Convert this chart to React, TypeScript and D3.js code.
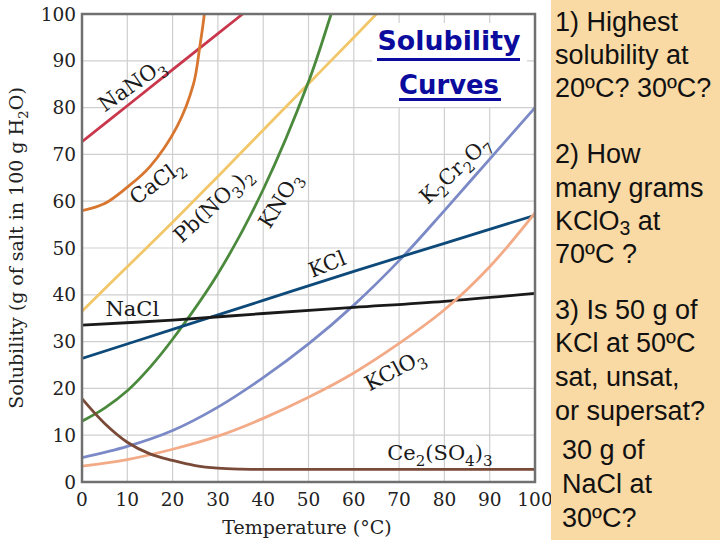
import React from "react";
import * as d3 from "d3";

// ---------- data ----------
const xTicks = [0, 10, 20, 30, 40, 50, 60, 70, 80, 90, 100];
const yTicks = [0, 10, 20, 30, 40, 50, 60, 70, 80, 90, 100];

const NaNO3: [number, number][] = [[0, 72.7], [10, 80.4], [20, 88.1], [30, 95.8], [40, 103.5]];
const CaCl2: [number, number][] = [[0, 58], [5, 59.5], [10, 63], [15, 67.4], [21, 76], [24.6, 85], [26, 93], [27, 100], [27.4, 105]];
const PbNO32: [number, number][] = [[0, 36.5], [10, 46], [20, 55.5], [30, 65.3], [40, 75.2], [50, 85.1], [60, 95], [66, 101]];
const KNO3: [number, number][] = [[0, 13], [5, 15.8], [10, 19.5], [15, 24.5], [20, 30.5], [30, 44.5], [40, 62.5], [50, 85.5], [55, 100], [57, 106]];
const K2Cr2O7: [number, number][] = [[0, 5.2], [10, 7.6], [20, 11], [30, 16], [40, 22.3], [50, 29.5], [60, 37.8], [70, 47.3], [80, 58], [90, 69], [100, 80]];
const KCl: [number, number][] = [[0, 26.4], [20, 32.6], [40, 38.8], [60, 45], [80, 51], [100, 57]];
const NaCl: [number, number][] = [[0, 33.5], [20, 34.6], [40, 36], [60, 37.3], [80, 38.6], [100, 40.3]];
const KClO3: [number, number][] = [[0, 3.4], [10, 4.8], [20, 7], [30, 9.8], [40, 13.6], [50, 18.1], [60, 23.3], [70, 29.6], [80, 36.8], [90, 46], [100, 57.5]];
const Ce2SO43: [number, number][] = [[0, 17.8], [5, 12.5], [10, 8.5], [15, 6], [20, 4.6], [25, 3.5], [30, 2.95], [35, 2.75], [40, 2.7], [60, 2.7], [100, 2.7]];

const seriesData = [NaNO3, CaCl2, PbNO32, KNO3, K2Cr2O7, KCl, NaCl, KClO3, Ce2SO43];
const seriesNames = ["NaNO_3", "CaCl_2", "Pb(NO_3)_2", "KNO_3", "K_2Cr_2O_7", "KCl", "NaCl", "KClO_3", "Ce_2(SO_4)_3"];
const seriesColors = ["#c8374b", "#d8762f", "#f2c76a", "#4b8a3c", "#7b8ac6", "#0d4a7a", "#1a1a1a", "#f3aa87", "#7a4a38"];
// label anchor (temperature, solubility) and rotation
const labelAt: [number, number][] = [[11.9, 83.6], [17.4, 62.9], [30, 58.1], [45, 59.4], [83.4, 65.6], [54.7, 45.1], [11.1, 35.5], [69.8, 22.6], [79, 4.7]];
const labelAngle = [-35, -36, -43, -58, -43, -22, 0, -28, 0];

const titleLines = ["Solubility", "Curves"];
const questionLines1 = ["1) Highest", "solubility at", "20ºC? 30ºC?", "", "2) How", "many grams", "KClO_3 at", "70ºC ?"];
const questionLines2 = ["3) Is 50 g of", "KCl at 50ºC", "sat, unsat,", "or supersat?"];
const questionLines3 = ["30 g of", "NaCl at", "30ºC?"];

// ---------- helpers ----------
function formula(s: string, size: number, shiftRatio = 0.28) {
  const parts = s.split(/_(\d)/);
  const shift = size * shiftRatio;
  let shifted = false;
  const out: any[] = [];
  parts.forEach((p, i) => {
    if (i % 2 === 1) {
      out.push(
        <tspan key={i} dy={shifted ? 0 : shift} fontSize={size * 0.72}>{p}</tspan>
      );
      shifted = true;
    } else if (p !== "") {
      out.push(
        <tspan key={i} dy={shifted ? -shift : 0} fontSize={size}>{p}</tspan>
      );
      shifted = false;
    }
  });
  return out;
}

export default function App() {
  const W = 720, H = 540;
  const x = d3.scaleLinear().domain([0, 100]).range([82, 535]);
  const y = d3.scaleLinear().domain([0, 100]).range([482, 14]);
  const line = d3.line<[number, number]>()
    .x(d => x(d[0]))
    .y(d => y(d[1]))
    .curve(d3.curveCatmullRom.alpha(0.5));

  const serif = "DejaVu Serif";
  const sans = "Liberation Sans, Arial, sans-serif";

  return (
    <svg width={W} height={H} style={{ position: "fixed", left: 0, top: 0, background: "#fff" }}>
      <defs>
        <clipPath id="plotclip">
          <rect x={x(0)} y={y(100)} width={x(100) - x(0)} height={y(0) - y(100)} />
        </clipPath>
      </defs>
      <rect x={0} y={0} width={W} height={H} fill="#fff" />

      {/* grid */}
      {xTicks.map(t => (
        <line key={"gx" + t} x1={x(t)} x2={x(t)} y1={y(0)} y2={y(100)} stroke="#cfcfcf" strokeWidth={1.2} />
      ))}
      {yTicks.map(t => (
        <line key={"gy" + t} x1={x(0)} x2={x(100)} y1={y(t)} y2={y(t)} stroke="#cfcfcf" strokeWidth={1.2} />
      ))}

      {/* title box */}
      <rect x={372} y={23} width={155} height={84} fill="#fff" />

      {/* curves */}
      <g clipPath="url(#plotclip)">
        {seriesData.map((d, i) => (
          <path key={"s" + i} d={line(d) || ""} fill="none" stroke={seriesColors[i]} strokeWidth={2.8} strokeLinecap="round" />
        ))}
      </g>

      {/* frame */}
      <rect x={x(0)} y={y(100)} width={x(100) - x(0)} height={y(0) - y(100)} fill="none" stroke="#707070" strokeWidth={2.5} />

      {/* tick labels */}
      {xTicks.map(t => (
        <text key={"tx" + t} x={x(t)} y={506} textAnchor="middle" fontFamily={serif} fontSize={18.5} fill="#222">{t}</text>
      ))}
      {yTicks.map(t => (
        <text key={"ty" + t} x={76} y={y(t) + 6.5} textAnchor="end" fontFamily={serif} fontSize={18.5} fill="#222">{t}</text>
      ))}

      {/* axis titles */}
      <text x={307} y={534} textAnchor="middle" fontFamily={serif} fontSize={19} fill="#222">Temperature (°C)</text>
      <text transform={`translate(23,${248}) rotate(-90)`} textAnchor="middle" fontFamily={serif} fontSize={19} fill="#222">
        {formula("Solubility (g of salt in 100 g H_2O)", 19)}
      </text>

      {/* curve labels */}
      {seriesNames.map((n, i) => {
        const px = x(labelAt[i][0]);
        const py = y(labelAt[i][1]);
        return (
          <text key={"l" + i} transform={`translate(${px},${py}) rotate(${labelAngle[i]})`} textAnchor="middle" fontFamily={serif} fontSize={21} fill="#1a1a1a">
            {formula(n, 21)}
          </text>
        );
      })}

      {/* title */}
      {titleLines.map((t, i) => (
        <text key={"t" + i} x={449} y={49.5 + i * 44} textAnchor="middle" fontFamily="DejaVu Sans" fontWeight="bold" fontSize={26}
          textLength={i === 0 ? 143 : 100} lengthAdjust="spacingAndGlyphs" fill="#0b0b9e">{t}</text>
      ))}
      <rect x={377} y={58} width={143} height={3} fill="#0b0b9e" />
      <rect x={399} y={98} width={102} height={3} fill="#0b0b9e" />

      {/* right panel */}
      <rect x={551} y={0} width={W - 551} height={H} fill="#f9d9a4" />
      {questionLines1.map((t, i) => (
        <text key={"q1" + i} x={555} y={30.5 + i * 33.2} fontFamily={sans} fontSize={27} fill="#111">{formula(t, 27, 0.2)}</text>
      ))}
      {questionLines2.map((t, i) => (
        <text key={"q2" + i} x={555} y={318.5 + i * 33.8} fontFamily={sans} fontSize={27} fill="#111">{t}</text>
      ))}
      {questionLines3.map((t, i) => (
        <text key={"q3" + i} x={562} y={458.5 + i * 34.2} fontFamily={sans} fontSize={27} fill="#111">{t}</text>
      ))}
    </svg>
  );
}
